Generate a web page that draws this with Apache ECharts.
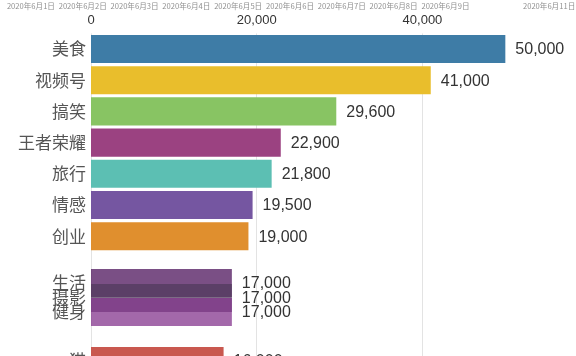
<!DOCTYPE html>
<html>
<head>
<meta charset="utf-8">
<script src="https://cdn.jsdelivr.net/npm/echarts@6/dist/echarts.min.js"></script>
<style>html,body{margin:0;padding:0;background:#fff;}#c{width:576px;height:356px;}</style>
</head>
<body>
<div id="c"></div>
<script>
var categories = ['美食','视频号','搞笑','王者荣耀','旅行','情感','创业','生活','摄影','健身','猫'];
var values = [50000, 41000, 29600, 22900, 21800, 19500, 19000, 17000, 17000, 17000, 16000];
var ranks = [0, 1, 2, 3, 4, 5, 6, 7.5, 7.98, 8.43, 10];
var colors = ['#3e7ca6','#e9be2c','#88c463','#9b4281','#5cbfb3','#7556a1','#e08f2e','#4e145c','#523b5e','#84358d','#c9584f'];
var opacities = [1,1,1,1,1,1,1,0.75,0.75,0.75,1];
var dates = ['2020年6月1日','2020年6月2日','2020年6月3日','2020年6月4日','2020年6月5日','2020年6月6日','2020年6月7日','2020年6月8日','2020年6月9日','2020年6月10日','2020年6月11日'];
var hiddenDate = 9;
var xTicks = [0, 20000, 40000];

function fmt(n){ return String(n).replace(/\B(?=(\d{3})+(?!\d))/g, ','); }

var data = values.map(function(v, i){ return [v, ranks[i], i]; });

var chart = echarts.init(document.getElementById('c'), null, {renderer:'canvas'});
chart.setOption({
  animation: false,
  grid: [
    {left: 91, top: 33.4, width: 497.2, height: 343.2, outerBoundsMode: 'none', containLabel: false},
    {left: 5, top: 11, width: 570, height: 1, outerBoundsMode: 'none', containLabel: false}
  ],
  xAxis: [
    {
      type: 'value', gridIndex: 0, position: 'top', min: xTicks[0], max: 60000, interval: xTicks[1] - xTicks[0],
      axisLine: {show: false}, axisTick: {show: false},
      axisLabel: {show: true, margin: 6, color: '#333', fontSize: 13, fontFamily: '"Liberation Sans", Arial, sans-serif',
        showMaxLabel: false, formatter: function(v){ return fmt(v); }},
      splitLine: {show: true, lineStyle: {color: '#e3e3e3', width: 1}}
    },
    {
      type: 'category', gridIndex: 1, position: 'top', data: dates, boundaryGap: true,
      axisLine: {show: false}, axisTick: {show: false}, splitLine: {show: false},
      axisLabel: {margin: 1, fontSize: 7.6, color: '#909090', fontFamily: '"Noto Sans CJK SC", sans-serif',
        hideOverlap: false, showMinLabel: true,
        interval: function(i){ return i !== hiddenDate; }}
    }
  ],
  yAxis: [
    {type: 'value', gridIndex: 0, inverse: true, min: -0.5, max: 10.5, show: false},
    {type: 'value', gridIndex: 1, show: false}
  ],
  series: [{
    type: 'custom',
    xAxisIndex: 0, yAxisIndex: 0,
    clip: false,
    data: data,
    renderItem: function(params, api){
      var v = api.value(0), r = api.value(1), idx = api.value(2);
      var s = api.coord([0, r]);
      var e = api.coord([v, r]);
      var h = api.size([0, 1])[1] * 0.9;
      return {
        type: 'group',
        children: [
          {type: 'rect', shape: {x: s[0], y: s[1] - h/2, width: e[0] - s[0], height: h},
            style: {fill: colors[idx], opacity: opacities[idx]}},
          {type: 'text', x: s[0] - 5, y: s[1],
            style: {text: categories[idx], align: 'right', verticalAlign: 'middle', fill: '#555',
              fontSize: 17, fontFamily: '"Noto Sans CJK SC", sans-serif'}},
          {type: 'text', x: e[0] + 10, y: s[1] + 1,
            style: {text: fmt(v), align: 'left', verticalAlign: 'middle', fill: '#333',
              fontSize: 16, fontFamily: '"Liberation Sans", Arial, sans-serif'}}
        ]
      };
    }
  }]
});
</script>
</body>
</html>
